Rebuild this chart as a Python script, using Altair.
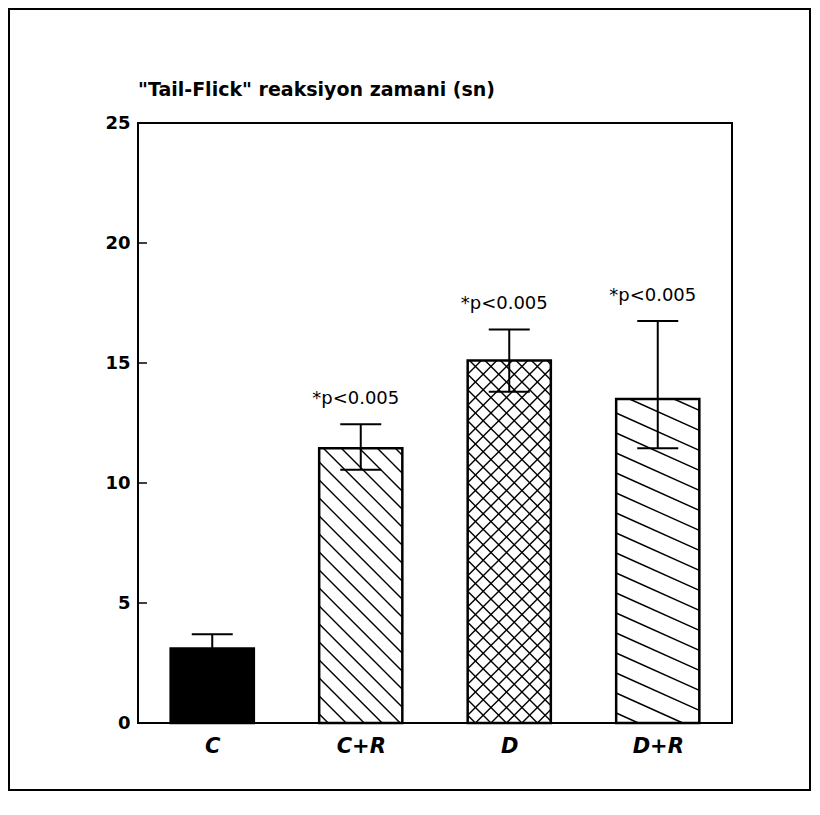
import json
import math
import numpy as np
import pandas as pd
import altair as alt

# ---------------- data ----------------
categories = ["C", "C+R", "D", "D+R"]
means = [3.1, 11.45, 15.1, 13.5]
err_up = [0.6, 1.0, 1.3, 3.25]
err_down = [0.6, 0.9, 1.3, 2.05]
annotations = ["", "*p<0.005", "*p<0.005", "*p<0.005"]
y_ticks = [0, 5, 10, 15, 20, 25]
title_text = '"Tail-Flick" reaksiyon zamani (sn)'

# ---------------- styling ----------------
FONT = "DejaVu Sans"
W, H = 594, 600
X_DOMAIN = [0.5, len(categories) + 0.5]
Y_DOMAIN = [0, 25]
PX_X = W / (X_DOMAIN[1] - X_DOMAIN[0])
PX_Y = H / (Y_DOMAIN[1] - Y_DOMAIN[0])
BAR_HALF = 0.28
CAP_HALF = 0.138
TICK_LEN_PX = 9
PAD = {"left": 130, "top": 115, "right": 80, "bottom": 75}
bar_fills = ["black", "white", "white", "white"]
# (slope in pixel space, vertical spacing in px) per bar
hatch_specs = [[], [(-1.0, 18.0)], [(-1.0, 15.5), (1.0, 15.5)], [(-0.45, 20.0)]]

idx = list(range(1, len(categories) + 1))
df = pd.DataFrame({
    "cat": categories,
    "idx": idx,
    "mean": means,
    "hi": [m + u for m, u in zip(means, err_up)],
    "lo": [m - d for m, d in zip(means, err_down)],
    "ann": annotations,
})
df["xl"] = df["idx"] - BAR_HALF
df["xr"] = df["idx"] + BAR_HALF
df["cl"] = df["idx"] - CAP_HALF
df["cr"] = df["idx"] + CAP_HALF
df["base"] = 0.0


def hatch_segments(cx, top, slope, spacing):
    x0 = (cx - BAR_HALF - X_DOMAIN[0]) * PX_X
    w = 2 * BAR_HALF * PX_X
    h = (top - Y_DOMAIN[0]) * PX_Y
    if slope < 0:
        cmin, cmax = 0.0, h - slope * w
    else:
        cmin, cmax = -slope * w, h
    c = math.ceil(cmin / spacing) * spacing + spacing * 0.5
    segs = []
    while c < cmax:
        ua0 = -c / slope
        ub0 = (h - c) / slope
        ua = max(0.0, min(ua0, ub0))
        ub = min(w, max(ua0, ub0))
        if ub - ua > 0.5:
            segs.append({
                "x": X_DOMAIN[0] + (x0 + ua) / PX_X,
                "x2": X_DOMAIN[0] + (x0 + ub) / PX_X,
                "y": (slope * ua + c) / PX_Y,
                "y2": (slope * ub + c) / PX_Y,
            })
        c += spacing
    return segs


hatch_rows = []
for i, m, specs in zip(idx, means, hatch_specs):
    for slope, sp in specs:
        hatch_rows += hatch_segments(i, m, slope, sp)
hatch_df = pd.DataFrame(hatch_rows)

tick_df = pd.DataFrame({"y": y_ticks[1:-1]})
tick_df["x"] = X_DOMAIN[0]
tick_df["x2"] = X_DOMAIN[0] + TICK_LEN_PX / PX_X

xs = alt.Scale(domain=X_DOMAIN, nice=False, zero=False)
ys = alt.Scale(domain=Y_DOMAIN, nice=False, zero=False)

XA = alt.Axis(values=idx, labelExpr=f"{json.dumps(categories)}[round(datum.value) - 1]",
              ticks=False, domain=False, grid=False, labelFont=FONT, labelFontSize=21,
              labelFontWeight="bold", labelFontStyle="italic", labelPadding=12,
              labelColor="black", title=None)
YA = alt.Axis(values=y_ticks, ticks=False, domain=False, grid=False, labelFont=FONT,
              labelFontSize=18, labelFontWeight="bold", labelPadding=8,
              labelColor="black", title=None)


def X(f):
    return alt.X(f, type="quantitative", scale=xs, axis=XA)


def Y(f):
    return alt.Y(f, type="quantitative", scale=ys, axis=YA)


# outer figure frame (decoration, in pixels relative to the plot area)
frame = alt.Chart(alt.Data(values=[{"a": 1}])).mark_rect(
    fill="transparent", stroke="black", strokeWidth=2
).encode(
    x=alt.value(-PAD["left"] + 1), x2=alt.value(W + PAD["right"] - 2),
    y=alt.value(-PAD["top"] + 1), y2=alt.value(H + PAD["bottom"] - 8),
)

bar_fill = alt.Chart(df).mark_rect().encode(
    x=X("xl"), x2="xr", y=Y("base"), y2="mean",
    fill=alt.Fill("cat:N", scale=alt.Scale(domain=categories, range=bar_fills), legend=None),
)

hatch = alt.Chart(hatch_df).mark_rule(color="black", strokeWidth=1.4).encode(
    x=X("x"), x2="x2", y=Y("y"), y2="y2"
)

bar_outline = alt.Chart(df).mark_rect(fill="transparent", stroke="black", strokeWidth=2.5).encode(
    x=X("xl"), x2="xr", y=Y("base"), y2="mean"
)

err_line = alt.Chart(df).mark_rule(color="black", strokeWidth=2).encode(
    x=X("idx"), y=Y("lo"), y2="hi"
)

caps = alt.Chart(df).transform_fold(["lo", "hi"], as_=["k", "v"]).mark_rule(
    color="black", strokeWidth=2
).encode(x=X("cl"), x2="cr", y=Y("v"))

ticks = alt.Chart(tick_df).mark_rule(color="black", strokeWidth=1.5).encode(
    x=X("x"), x2="x2", y=Y("y")
)

ann = alt.Chart(df).mark_text(
    font=FONT, fontSize=18, baseline="alphabetic", align="center", dy=-20, dx=-5, color="black"
).encode(x=X("idx"), y=Y("hi"), text="ann:N")

title = alt.Chart(alt.Data(values=[{"a": 1}])).mark_text(
    font=FONT, fontSize=19, fontWeight="bold", align="left", baseline="alphabetic", color="black"
).encode(x=alt.value(0), y=alt.value(-27), text=alt.value(title_text))

chart = alt.layer(
    frame, bar_fill, hatch, bar_outline, err_line, caps, ticks, ann, title
).properties(
    width=W, height=H,
    autosize=alt.AutoSizeParams(type="none"),
    padding=PAD,
    background="white",
).configure_view(stroke="black", strokeWidth=2)

chart.save("out.html", embed_options={"renderer": "svg", "actions": False})
